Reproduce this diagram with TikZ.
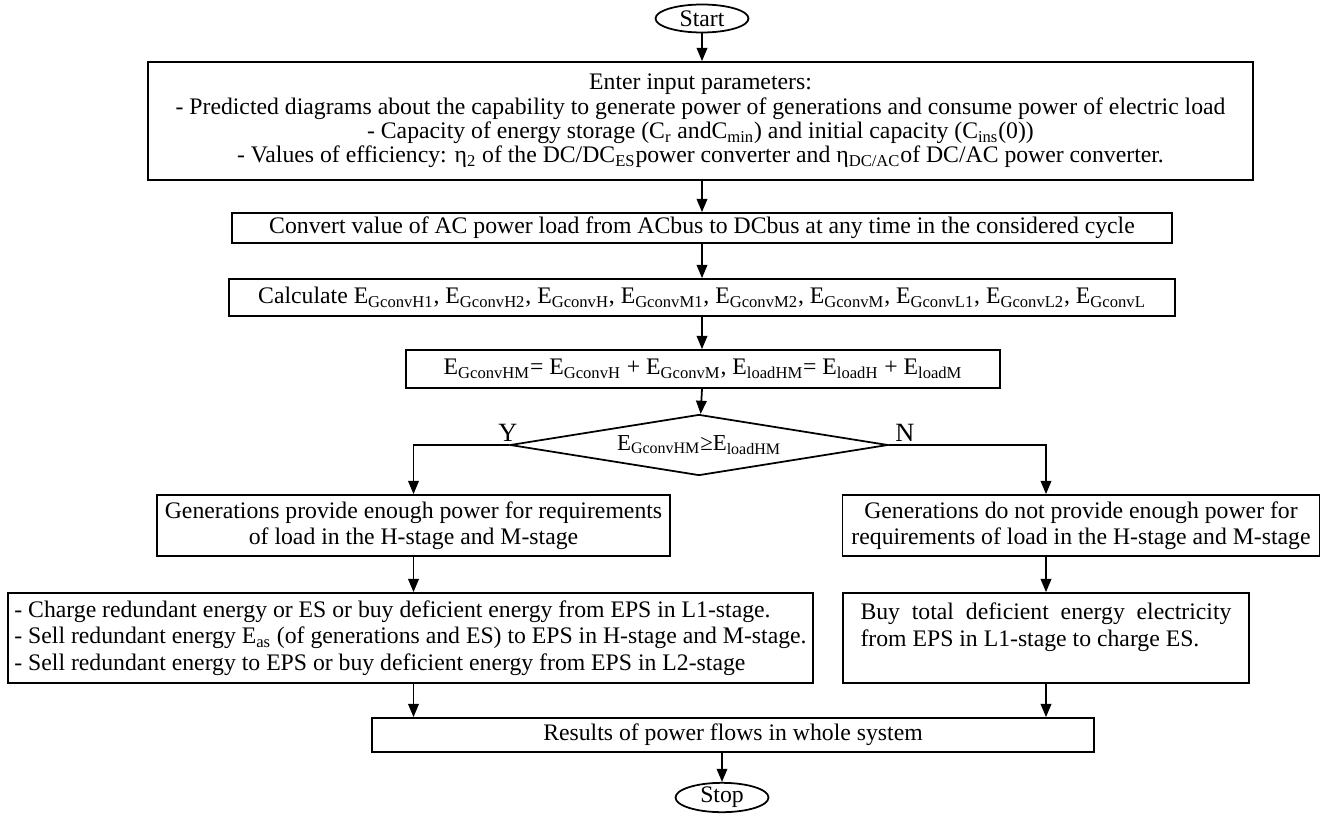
\documentclass[tikz,border=0pt]{standalone}
\usepackage{fontspec}
\setmainfont{Liberation Serif}
\usetikzlibrary{arrows.meta,shapes.geometric}

\begin{document}
\begin{tikzpicture}[x=0.02cm,y=-0.02cm,
  box/.style={draw,line width=1pt,inner sep=1pt,align=center,
    font=\fontsize{13.5}{14}\selectfont},
  term/.style={draw,ellipse,line width=1pt,inner sep=0pt,
    minimum width=1.86cm,minimum height=0.56cm,font=\fontsize{13.5}{13.5}\selectfont},
  cond/.style={draw,diamond,line width=1pt,inner sep=0pt,aspect=6.2,
    minimum width=7.56cm,minimum height=1.22cm,font=\fontsize{13}{13}\selectfont},
  lbl/.style={font=\fontsize{15}{15}\selectfont},
  flow/.style={-{Triangle[length=7.5pt,width=6pt]},line width=1pt}]
\useasboundingbox (0,0) rectangle (1334,814);
\coordinate (axis) at (702,0);

\node[term] (start) at (702,18.5) {Start};
\node[box,minimum width=22.1cm,minimum height=2.36cm,
  font=\fontsize{13.5}{13.8}\selectfont] (inp) at (700.5,121)
  {Enter input parameters:\\
   - Predicted diagrams about the capability to generate power of generations and consume power of electric load\\
   - Capacity of energy storage (C\textsubscript{r} andC\textsubscript{min}) and initial capacity (C\textsubscript{ins}(0))\\
   - Values of efficiency: η\textsubscript{2} of the DC/DC\textsubscript{ES}power converter and η\textsubscript{DC/AC}of DC/AC power converter.};
\node[box,minimum width=18.8cm,minimum height=0.6cm] (conv) at (702,228)
  {Convert value of AC power load from ACbus to DCbus at any time in the considered cycle};
\node[box,minimum width=18.92cm,minimum height=0.74cm] (calc) at (702,297.5)
  {Calculate E\textsubscript{GconvH1}, E\textsubscript{GconvH2}, E\textsubscript{GconvH}, E\textsubscript{GconvM1}, E\textsubscript{GconvM2}, E\textsubscript{GconvM}, E\textsubscript{GconvL1}, E\textsubscript{GconvL2}, E\textsubscript{GconvL}};
\node[box,minimum width=11.88cm,minimum height=0.76cm] (sum) at (703,369)
  {E\textsubscript{GconvHM}= E\textsubscript{GconvH} + E\textsubscript{GconvM}, E\textsubscript{loadHM}= E\textsubscript{loadH} + E\textsubscript{loadM}};
\node[cond] (dec) at (699,445) {E\textsubscript{GconvHM}≥E\textsubscript{loadHM}};
\node[lbl] (lblY) at (508,433) {Y};
\node[lbl] (lblN) at (905,433) {N};

\node[box,minimum width=10.26cm,minimum height=1.22cm,
  font=\fontsize{13.5}{15}\selectfont] (yes) at (413.5,525.5)
  {Generations provide enough power for requirements\\ of load in the H-stage and M-stage};
\node[box,minimum width=9.54cm,minimum height=1.22cm,
  font=\fontsize{13.5}{15}\selectfont] (no) at (1081,525.5)
  {Generations do not provide enough power for\\ requirements of load in the H-stage and M-stage};
\node[box,minimum width=16.1cm,minimum height=1.8cm,align=left,
  font=\fontsize{13.5}{15.2}\selectfont] (act) at (410.5,638)
  {- Charge redundant energy or ES or buy deficient energy from EPS in L1-stage.\\
   - Sell redundant energy E\textsubscript{as} (of generations and ES) to EPS in H-stage and M-stage.\\
   - Sell redundant energy to EPS or buy deficient energy from EPS in L2-stage};
\node[box,minimum width=8.12cm,minimum height=1.8cm,text width=7.42cm,align=justify,
  font=\fontsize{13.5}{15.2}\selectfont] (buy) at (1046,638)
  {Buy total deficient energy electricity from EPS in L1-stage to charge ES.\\ \mbox{}};
\node[box,minimum width=14.44cm,minimum height=0.68cm] (res) at (733,735)
  {Results of power flows in whole system};
\node[term] (stop) at (722,797.5) {Stop};

\draw[flow] (start) -- (axis |- inp.north);
\draw[flow] (axis |- inp.south) -- (axis |- conv.north);
\draw[flow] (axis |- conv.south) -- (axis |- calc.north);
\draw[flow] (axis |- calc.south) -- (axis |- sum.north);
\draw[flow] (axis |- sum.south) -- (dec);
\draw[flow] (dec.west) -| (yes.north);
\draw[flow] (dec.east) -| (buy |- no.north);
\draw[flow] (yes) -- (yes |- act.north);
\draw[flow] (buy |- no.south) -- (buy);
\draw[flow] (yes |- act.south) -- (yes |- res.north);
\draw[flow] (buy) -- (buy |- res.north);
\draw[flow] (stop |- res.south) -- (stop);
\end{tikzpicture}
\end{document}
